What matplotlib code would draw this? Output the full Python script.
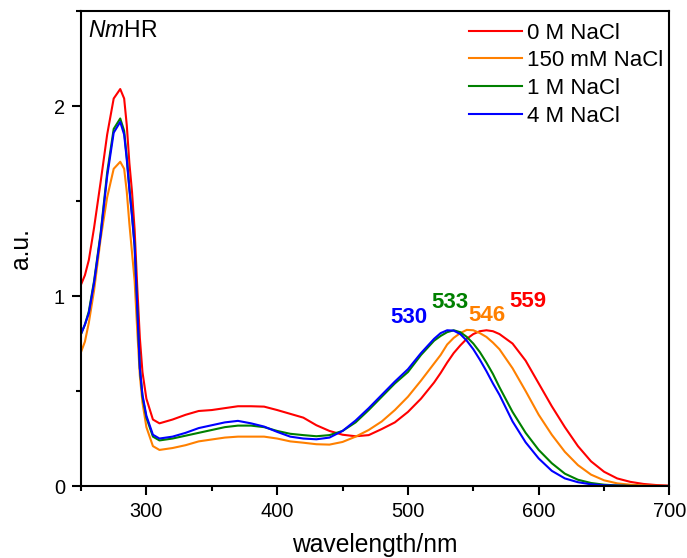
import matplotlib
matplotlib.use("Agg")
import matplotlib.pyplot as plt
from matplotlib.ticker import MultipleLocator

plt.rcParams['font.family'] = ['Liberation Sans', 'DejaVu Sans']
plt.rcParams['mathtext.fontset'] = 'custom'
plt.rcParams['mathtext.rm'] = 'Liberation Sans'
plt.rcParams['mathtext.it'] = 'Liberation Sans:italic'

wavelength = [250, 253, 256, 260, 265, 270, 275, 280, 283, 285, 287, 289, 291, 293, 295, 297,
              300, 305, 310, 320, 330, 340, 350, 360, 370, 380, 390, 400, 410, 420, 430, 440,
              450, 460, 470, 480, 490, 500, 510, 520, 525, 530, 535, 540, 545, 550, 555, 560,
              565, 570, 580, 590, 600, 610, 620, 630, 640, 650, 660, 670, 680, 690, 700]

nacl_0M = [1.06, 1.11, 1.19, 1.36, 1.60, 1.85, 2.04, 2.09, 2.04, 1.90, 1.70, 1.55, 1.35, 1.05, 0.78, 0.60,
           0.46, 0.35, 0.33, 0.35, 0.375, 0.395, 0.40, 0.41, 0.42, 0.42, 0.418, 0.40, 0.38, 0.36, 0.32, 0.29,
           0.27, 0.262, 0.268, 0.30, 0.335, 0.39, 0.46, 0.545, 0.595, 0.65, 0.70, 0.74, 0.775, 0.80, 0.815, 0.82,
           0.815, 0.80, 0.75, 0.66, 0.54, 0.42, 0.31, 0.21, 0.13, 0.075, 0.04, 0.022, 0.011, 0.005, 0.002]

nacl_150mM = [0.705, 0.76, 0.86, 1.03, 1.30, 1.52, 1.67, 1.707, 1.67, 1.55, 1.38, 1.23, 1.08, 0.82, 0.58, 0.44,
              0.31, 0.21, 0.19, 0.20, 0.215, 0.235, 0.245, 0.255, 0.26, 0.26, 0.26, 0.25, 0.235, 0.228, 0.22, 0.218,
              0.232, 0.26, 0.295, 0.34, 0.40, 0.47, 0.555, 0.645, 0.69, 0.745, 0.78, 0.805, 0.822, 0.82, 0.805, 0.785,
              0.755, 0.72, 0.62, 0.50, 0.375, 0.27, 0.18, 0.11, 0.06, 0.03, 0.014, 0.007, 0.003, 0.001, 0.0]

nacl_1M = [0.80, 0.85, 0.92, 1.08, 1.33, 1.65, 1.88, 1.935, 1.87, 1.73, 1.57, 1.43, 1.27, 0.95, 0.62, 0.47,
           0.36, 0.26, 0.24, 0.25, 0.265, 0.28, 0.295, 0.31, 0.318, 0.318, 0.31, 0.29, 0.275, 0.268, 0.262, 0.268,
           0.29, 0.335, 0.40, 0.47, 0.54, 0.60, 0.69, 0.765, 0.79, 0.81, 0.82, 0.81, 0.785, 0.75, 0.705, 0.65,
           0.59, 0.52, 0.39, 0.28, 0.19, 0.12, 0.065, 0.033, 0.016, 0.007, 0.003, 0.001, 0.0, 0.0, 0.0]

nacl_4M = [0.80, 0.85, 0.91, 1.07, 1.32, 1.63, 1.86, 1.917, 1.85, 1.72, 1.56, 1.42, 1.26, 0.94, 0.62, 0.48,
           0.37, 0.27, 0.25, 0.26, 0.28, 0.305, 0.32, 0.335, 0.343, 0.33, 0.313, 0.285, 0.26, 0.25, 0.246, 0.255,
           0.29, 0.345, 0.41, 0.48, 0.55, 0.615, 0.70, 0.775, 0.805, 0.82, 0.818, 0.80, 0.765, 0.72, 0.665, 0.605,
           0.54, 0.48, 0.34, 0.23, 0.145, 0.08, 0.04, 0.02, 0.009, 0.004, 0.002, 0.0, 0.0, 0.0, 0.0]

series_labels = ["0 M NaCl", "150 mM NaCl", "1 M NaCl", "4 M NaCl"]
series_colors = ["#ff0000", "#ff8000", "#008000", "#0000ff"]

peak_labels = ["530", "533", "546", "559"]
peak_label_x = [501, 532, 560.5, 592]
peak_label_y = [0.885, 0.967, 0.897, 0.972]
peak_label_colors = ["#0000ff", "#008000", "#ff8000", "#ff0000"]

fig = plt.figure(figsize=(6.87, 5.58), dpi=100)
ax = fig.add_axes([0.1179, 0.129, 0.8566, 0.851])

for ys, lab, col in zip([nacl_0M, nacl_150mM, nacl_1M, nacl_4M], series_labels, series_colors):
    ax.plot(wavelength, ys, color=col, lw=1.5, label=lab)

for t, x, y, c in zip(peak_labels, peak_label_x, peak_label_y, peak_label_colors):
    ax.text(x, y, t, color=c, fontsize=16, fontweight='bold', ha='center', va='center')

ax.set_xlim(250, 700)
ax.set_ylim(0, 2.5)
ax.xaxis.set_major_locator(MultipleLocator(100))
ax.xaxis.set_minor_locator(MultipleLocator(50))
ax.yaxis.set_major_locator(MultipleLocator(1))
ax.yaxis.set_minor_locator(MultipleLocator(0.5))
ax.tick_params(which='major', direction='out', length=6.5, width=1.5, labelsize=14.4, pad=5)
ax.tick_params(which='minor', direction='out', length=3.3, width=1.5)
ax.tick_params(top=False, right=False)
for s in ax.spines.values():
    s.set_linewidth(1.5)

ax.set_xlabel("wavelength/nm", fontsize=17.7, labelpad=9)
ax.set_ylabel("a.u.", fontsize=17.7, labelpad=15)

ax.text(0.012, 0.983, r"$\mathit{Nm}$HR", transform=ax.transAxes, fontsize=16.5, va='top', ha='left')

leg = ax.legend(loc='upper right', frameon=False, fontsize=16, handlelength=2.35,
                handletextpad=0.22, labelspacing=0.3, borderpad=0.3, borderaxespad=0.0,
                bbox_to_anchor=(1.0, 0.99))

fig.savefig("out.png", dpi=100)
